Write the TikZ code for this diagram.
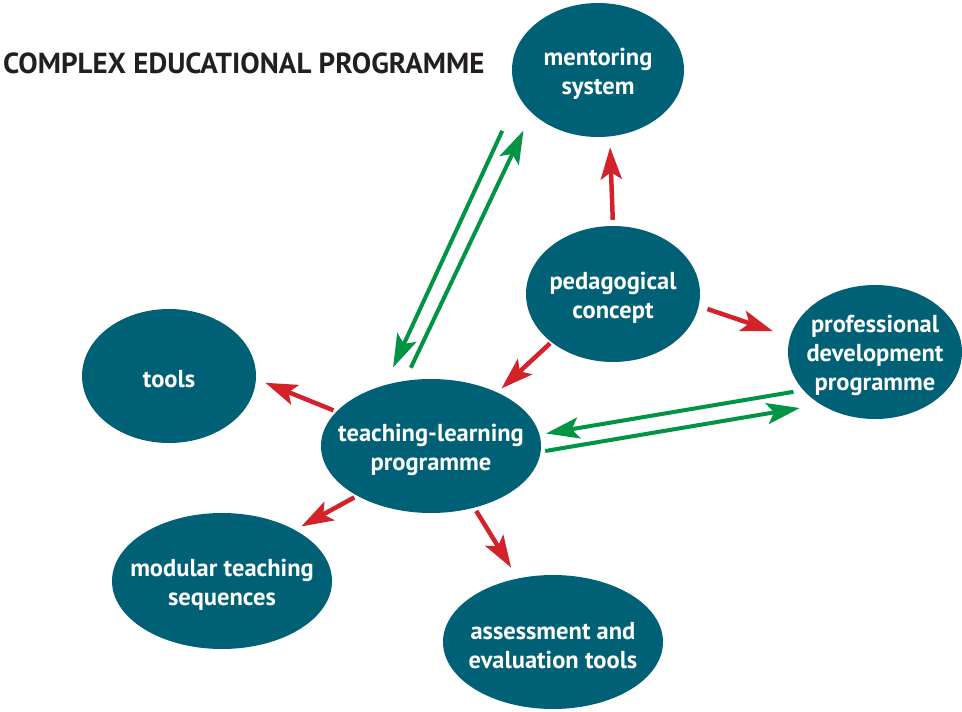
\documentclass[tikz,border=0pt]{standalone}
\usepackage{fontspec}
\setmainfont{PT Sans}
\usetikzlibrary{shapes.geometric,arrows.meta}

\definecolor{bubblefill}{RGB}{0,96,117}
\definecolor{arrowred}{RGB}{210,35,42}
\definecolor{arrowgreen}{RGB}{0,148,68}
\definecolor{titlegray}{RGB}{35,31,32}

\tikzset{
  bubble/.style={ellipse, fill=bubblefill, draw=none, inner sep=0pt},
  bubbletext/.style={text=white, align=center, inner sep=0pt, yshift=-3.5pt,
    font=\bfseries\fontsize{24.5}{29}\selectfont},
  redarrow/.style={draw=arrowred, line width=4.5pt,
    -{Stealth[length=32pt,width=21pt,inset=7pt]}},
  greenarrow/.style={draw=arrowgreen, line width=4pt,
    -{Stealth[length=33pt,width=21pt,inset=7pt]}},
}

\begin{document}
\begin{tikzpicture}[x=1pt,y=-1pt]
  \useasboundingbox (0,0) rectangle (962,712);

  % title
  \node[anchor=base west, inner sep=0pt, text=titlegray,
        font=\bfseries\fontsize{29}{32}\selectfont] (title) at (3,73)
        {COMPLEX EDUCATIONAL PROGRAMME};

  % ellipses
  \node[bubble, minimum width=172pt, minimum height=134pt] (ment)   at (598,70)  {};
  \node[bubble, minimum width=174pt, minimum height=136pt] (ped)    at (613,294) {};
  \node[bubble, minimum width=174pt, minimum height=134pt] (prof)   at (875,352) {};
  \node[bubble, minimum width=174pt, minimum height=134pt] (tools)  at (169,376) {};
  \node[bubble, minimum width=220pt, minimum height=134pt] (teach)  at (431,446) {};
  \node[bubble, minimum width=220pt, minimum height=136pt] (mod)    at (222,581) {};
  \node[bubble, minimum width=220pt, minimum height=134pt] (assess) at (553,642) {};

  % labels
  \node[bubbletext] (mentT)   at (ment)   {mentoring\\system};
  \node[bubbletext] (pedT)    at (ped)    {pedagogical\\concept};
  \node[bubbletext] (profT)   at (prof)   {professional\\development\\programme};
  \node[bubbletext] (toolsT)  at (tools)  {tools};
  \node[bubbletext] (teachT)  at (teach)  {teaching-learning\\programme};
  \node[bubbletext] (modT)    at (mod)    {modular teaching\\sequences};
  \node[bubbletext] (assessT) at (assess) {assessment and\\evaluation tools};

  % red arrows
  \draw[redarrow, shorten <=6pt,   shorten >=10.7pt] (ped.90)      -- (ment.-80.1);
  \draw[redarrow, shorten <=9.1pt, shorten >=17.9pt] (ped.-8.7)    -- (prof.170.4);
  \draw[redarrow, shorten <=1.7pt, shorten >=5.7pt]  (ped.-142.2)  -- (teach.39.9);
  \draw[redarrow, shorten <=3.2pt, shorten >=9.9pt]  (teach.160.4) -- (tools.-2.1);
  \draw[redarrow, shorten <=3.2pt, shorten >=7.2pt]  (teach.-146.3)-- (mod.35.7);
  \draw[redarrow, shorten <=3.7pt, shorten >=12.6pt] (teach.-55.8) -- (assess.119.9);

  % green arrows
  \draw[greenarrow, shorten <=38.5pt, shorten >=19.2pt] (ment.-162.6) -- (teach.127.8);
  \draw[greenarrow, shorten <=14.4pt, shorten >=19.4pt] (teach.112.7) -- (ment.-147.5);
  \draw[greenarrow, shorten <=9.9pt,  shorten >=6.6pt]  (prof.-152.7) -- (teach.6.7);
  \draw[greenarrow, shorten <=4.5pt,  shorten >=21.1pt] (teach.-3.0)  -- (prof.-136);
\end{tikzpicture}
\end{document}
